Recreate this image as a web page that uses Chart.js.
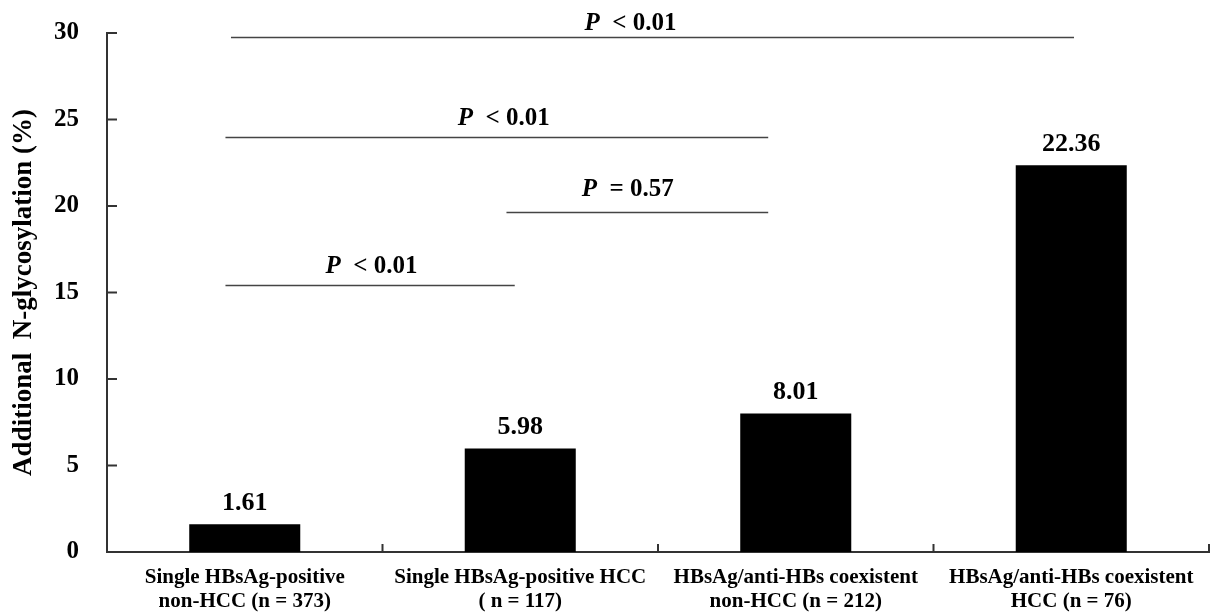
<!DOCTYPE html>
<html>
<head>
<meta charset="utf-8">
<script src="https://cdn.jsdelivr.net/npm/chart.js@4"></script>
<style>
  html, body { margin: 0; padding: 0; background: #fff; }
  #wrap { width: 1211px; height: 614px; }
</style>
</head>
<body>
<div id="wrap"><canvas id="chartGlyco"></canvas></div>
<script>
// data
const categories = [
  ['Single HBsAg-positive', 'non-HCC (n = 373)'],
  ['Single HBsAg-positive HCC', '( n = 117)'],
  ['HBsAg/anti-HBs coexistent', 'non-HCC (n = 212)'],
  ['HBsAg/anti-HBs coexistent', 'HCC (n = 76)']
];
const glycoRates = [1.61, 5.98, 8.01, 22.36];
const yTicks = [0, 5, 10, 15, 20, 25, 30];

// significance brackets (category index from/to, level on y axis)
const cmpFrom = [-0.05, -0.07, 0.95, -0.07];
const cmpTo = [3.01, 1.90, 1.90, 0.98];
const cmpLevel = [29.74, 24.0, 19.65, 15.43];
const cmpText = ['< 0.01', '< 0.01', '= 0.57', '< 0.01'];
const cmpLabelAt = [1.40, 0.94, 1.39, 0.46];
const cmpLabelLevel = [30.15, 24.7, 20.6, 16.1];

const serif = '"Liberation Serif", "Times New Roman", serif';

// value labels, inner tick marks and p-value brackets
const extras = {
  id: 'extras',
  afterDatasetsDraw(chart) {
    const c = chart.ctx;
    const x = chart.scales.x;
    const y = chart.scales.y;
    const area = chart.chartArea;

    c.save();
    c.strokeStyle = '#333';
    c.lineWidth = 2;
    // y ticks pointing inward
    yTicks.forEach(v => {
      const py = y.getPixelForValue(v);
      c.beginPath();
      c.moveTo(area.left, py);
      c.lineTo(area.left + 10, py);
      c.stroke();
    });
    // x ticks at category boundaries
    for (let i = -0.5; i <= categories.length - 0.5; i++) {
      const px = x.getPixelForValue(i);
      c.beginPath();
      c.moveTo(px, area.bottom);
      c.lineTo(px, area.bottom - 8);
      c.stroke();
    }

    // bar value labels
    const meta = chart.getDatasetMeta(0);
    c.fillStyle = '#000';
    c.font = 'bold 26px ' + serif;
    c.textAlign = 'center';
    c.textBaseline = 'bottom';
    meta.data.forEach((bar, i) => {
      c.fillText(glycoRates[i].toFixed(2), bar.x, bar.y - 8);
    });

    // brackets
    c.strokeStyle = '#444';
    c.lineWidth = 1.5;
    cmpLevel.forEach((lvl, i) => {
      const py = Math.round(y.getPixelForValue(lvl)) + 0.5;
      c.beginPath();
      c.moveTo(x.getPixelForValue(cmpFrom[i]), py);
      c.lineTo(x.getPixelForValue(cmpTo[i]), py);
      c.stroke();

      const cx = x.getPixelForValue(cmpLabelAt[i]);
      const ly = y.getPixelForValue(cmpLabelLevel[i]);
      c.textBaseline = 'alphabetic';
      c.textAlign = 'left';
      c.font = 'italic bold 25px ' + serif;
      const wP = c.measureText('P').width;
      c.font = 'bold 25px ' + serif;
      const rest = '  ' + cmpText[i];
      const wR = c.measureText(rest).width;
      const start = cx - (wP + wR) / 2;
      c.font = 'italic bold 25px ' + serif;
      c.fillText('P', start, ly);
      c.font = 'bold 25px ' + serif;
      c.fillText(rest, start + wP, ly);
    });
    c.restore();
  }
};

const ctx = document.getElementById('chartGlyco').getContext('2d');
new Chart(ctx, {
  type: 'bar',
  data: {
    labels: categories,
    datasets: [{
      data: glycoRates,
      backgroundColor: '#000',
      borderWidth: 0,
      barPercentage: 0.403,
      categoryPercentage: 1
    }]
  },
  options: {
    responsive: true,
    maintainAspectRatio: false,
    animation: false,
    layout: { padding: { top: 33, right: 2, left: 0, bottom: 0 } },
    plugins: {
      legend: { display: false },
      tooltip: { enabled: false }
    },
    scales: {
      x: {
        grid: { display: false, drawTicks: false },
        border: { display: true, color: '#333', width: 2 },
        ticks: {
          color: '#000',
          padding: 14,
          maxRotation: 0,
          autoSkip: false,
          font: { family: serif, size: 21, weight: 'bold', lineHeight: 1.12 }
        },
        afterFit(scale) {
          scale.height = 62;
          scale.paddingLeft = 0;
          scale.paddingRight = 0;
        }
      },
      y: {
        min: 0,
        max: 30,
        grid: { display: false, drawTicks: false },
        border: { display: true, color: '#333', width: 2 },
        ticks: {
          stepSize: 5,
          color: '#000',
          padding: 28,
          font: { family: serif, size: 25, weight: 'bold' }
        },
        title: {
          display: true,
          text: 'Additional  N-glycosylation (%)',
          color: '#000',
          padding: { top: 8, bottom: 0 },
          font: { family: serif, size: 27, weight: 'bold' }
        },
        afterFit(scale) {
          scale.width = 107;
          scale.paddingTop = 0;
          scale.paddingBottom = 0;
        }
      }
    }
  },
  plugins: [extras]
});
</script>
</body>
</html>
